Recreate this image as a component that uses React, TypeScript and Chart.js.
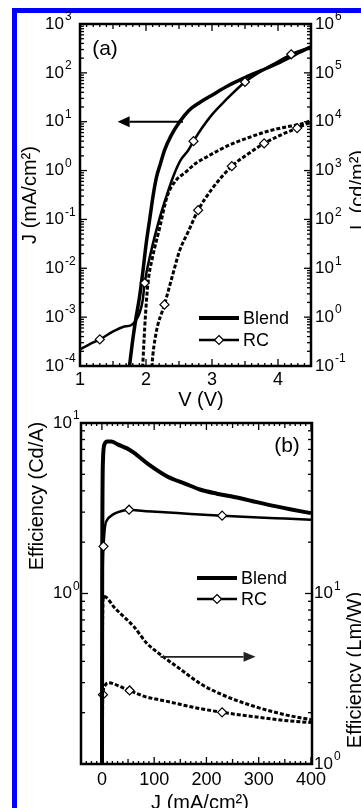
import React, { useEffect, useRef } from 'react';
import { Chart, registerables } from 'chart.js';

Chart.register(...registerables);

const FONT = '"Liberation Sans", Arial, Helvetica, sans-serif';
const W = 361;
const H = 808;

// ---------- Panel (a): J–V and L–V ----------
const BLEND_J_V = [1.70, 1.75, 1.80, 1.85, 1.90, 1.95, 2.00, 2.06, 2.11, 2.16, 2.22, 2.28, 2.38, 2.51, 2.65, 2.82, 3.00, 3.25, 3.50, 3.75, 4.00, 4.25, 4.50];
const BLEND_J = [3e-5, 1e-4, 3.5e-4, 1e-3, 2.5e-3, 8e-3, 0.03, 0.11, 0.32, 0.74, 1.4, 2.6, 5.2, 10, 17, 25, 35, 55, 80, 112, 158, 234, 340];

const RC_J_V = [1.00, 1.15, 1.30, 1.49, 1.65, 1.78, 1.85, 1.90, 1.95, 1.98, 2.08, 2.21, 2.31, 2.41, 2.52, 2.64, 2.72, 2.85, 3.00, 3.20, 3.50, 3.80, 4.00, 4.20, 4.50];
const RC_J = [2.2e-4, 2.8e-4, 3.5e-4, 5.0e-4, 6.3e-4, 6.9e-4, 8.7e-4, 1.2e-3, 2.2e-3, 5e-3, 0.023, 0.11, 0.3, 0.74, 1.6, 2.6, 4.0, 7.5, 14, 27, 65, 120, 170, 240, 340];
const RC_J_MARKS = [2, 9, 16, 20, 23];

const BLEND_L_V = [1.93, 1.95, 1.99, 2.03, 2.10, 2.21, 2.32, 2.45, 2.61, 2.75, 2.92, 3.10, 3.32, 3.55, 3.83, 4.10, 4.34, 4.50];
const BLEND_L = [0.03, 0.1, 1, 5, 17, 70, 295, 620, 950, 1400, 1900, 2600, 3600, 4700, 6300, 7700, 8900, 10500];

const RC_L_V = [2.07, 2.09, 2.15, 2.28, 2.40, 2.51, 2.65, 2.79, 3.00, 3.30, 3.55, 3.79, 4.05, 4.29, 4.50];
const RC_L = [0.03, 0.1, 0.45, 1.8, 7, 23, 60, 155, 420, 1230, 2200, 3600, 5400, 7400, 10000];
const RC_L_MARKS = [3, 7, 9, 11, 13];

const A_X_TICKS = [1, 2, 3, 4];
const A_LEFT_EXP = [-4, -3, -2, -1, 0, 1, 2, 3];
const A_RIGHT_EXP = [-1, 0, 1, 2, 3, 4, 5, 6];

// ---------- Panel (b): efficiencies vs J ----------
const BLEND_CDA_J = [0, 0.5, 2, 5, 10, 18, 30, 48, 61, 90, 125, 160, 189, 220, 253, 285, 317, 360, 400];
const BLEND_CDA = [0.02, 1.0, 6.0, 7.5, 7.8, 7.8, 7.5, 7.1, 6.7, 5.7, 4.86, 4.4, 4.06, 3.85, 3.68, 3.5, 3.32, 3.12, 2.96];

const RC_CDA_J = [0, 1, 3, 6, 10, 16, 25, 38, 52, 80, 120, 170, 230, 300, 350, 400];
const RC_CDA = [0.02, 0.9, 1.89, 2.48, 2.7, 2.83, 2.95, 3.05, 3.1, 3.05, 3.0, 2.93, 2.86, 2.79, 2.75, 2.71];
const RC_CDA_MARKS = [2, 8, 12];

const BLEND_LMW_J = [0, 1, 3, 8, 15, 22, 40, 61, 86, 112, 150, 189, 230, 291, 349, 400];
const BLEND_LMW = [0.05, 5, 9.6, 9.5, 9.0, 8.4, 7.4, 6.4, 5.1, 4.38, 3.6, 2.95, 2.55, 2.18, 1.95, 1.82];

const RC_LMW_J = [0, 1, 2, 5, 9, 13, 25, 40, 53, 80, 125, 175, 230, 300, 350, 400];
const RC_LMW = [0.05, 1.5, 2.55, 2.85, 2.97, 3.0, 2.93, 2.8, 2.70, 2.5, 2.33, 2.15, 2.01, 1.88, 1.8, 1.75];
const RC_LMW_MARKS = [2, 8, 12];

const B_X_TICKS = [0, 100, 200, 300, 400];
const B_LEFT_EXP = [0, 1];
const B_RIGHT_EXP = [0, 1];

// ---------- helpers ----------
const pts = (xs: number[], ys: number[]) => xs.map((x, i) => ({ x, y: ys[i] }));

function series(xs: number[], ys: number[], axis: string, width: number, dash: number[], marks?: number[]) {
  return {
    data: pts(xs, ys),
    yAxisID: axis,
    borderColor: '#000',
    backgroundColor: '#000',
    borderWidth: width,
    borderDash: dash,
    fill: false,
    cubicInterpolationMode: 'monotone',
    pointStyle: 'rectRot',
    pointRadius: (c: any) => (marks && marks.includes(c.dataIndex) ? 4.5 : 0),
    pointBackgroundColor: '#fff',
    pointBorderColor: '#000',
    pointBorderWidth: 1.2,
    clip: 0,
  };
}

function line(ctx: CanvasRenderingContext2D, x1: number, y1: number, x2: number, y2: number) {
  ctx.beginPath();
  ctx.moveTo(x1, y1);
  ctx.lineTo(x2, y2);
  ctx.stroke();
}

function logTicks(ctx: CanvasRenderingContext2D, scale: any, x0: number, dir: number) {
  const min = scale.min, max = scale.max;
  const e0 = Math.floor(Math.log10(min)), e1 = Math.ceil(Math.log10(max));
  for (let e = e0; e <= e1; e++) {
    for (let k = 1; k <= 9; k++) {
      const v = k * Math.pow(10, e);
      if (v < min * 0.999 || v > max * 1.001) continue;
      const py = scale.getPixelForValue(v);
      line(ctx, x0, py, x0 + dir * (k === 1 ? 7 : 4), py);
    }
  }
}

function pow10Label(ctx: CanvasRenderingContext2D, exp: number, x: number, y: number) {
  ctx.textAlign = 'left';
  ctx.textBaseline = 'middle';
  ctx.font = `17px ${FONT}`;
  ctx.fillText('10', x, y);
  const bw = ctx.measureText('10').width;
  ctx.font = `12px ${FONT}`;
  ctx.fillText(String(exp), x + bw + 1, y - 7);
}

function text(ctx: CanvasRenderingContext2D, s: string, x: number, y: number, size: number, align: CanvasTextAlign = 'center', base: CanvasTextBaseline = 'middle') {
  ctx.font = `${size}px ${FONT}`;
  ctx.textAlign = align;
  ctx.textBaseline = base;
  ctx.fillText(s, x, y);
}

function rotText(ctx: CanvasRenderingContext2D, s: string, xBase: number, yCenter: number, size: number) {
  ctx.save();
  ctx.translate(xBase, yCenter);
  ctx.rotate(-Math.PI / 2);
  ctx.font = `${size}px ${FONT}`;
  ctx.textAlign = 'center';
  ctx.textBaseline = 'alphabetic';
  ctx.fillText(s, 0, 0);
  ctx.restore();
}

function arrow(ctx: CanvasRenderingContext2D, x1: number, y: number, x2: number, head: number, half: number, lw: number, color: string) {
  const dir = Math.sign(x2 - x1);
  ctx.strokeStyle = color;
  ctx.fillStyle = color;
  ctx.lineWidth = lw;
  line(ctx, x1, y, x2 - dir * head, y);
  ctx.beginPath();
  ctx.moveTo(x2, y);
  ctx.lineTo(x2 - dir * head, y - half);
  ctx.lineTo(x2 - dir * head, y + half);
  ctx.closePath();
  ctx.fill();
}

function diamond(ctx: CanvasRenderingContext2D, x: number, y: number, r: number) {
  ctx.beginPath();
  ctx.moveTo(x, y - r);
  ctx.lineTo(x + r, y);
  ctx.lineTo(x, y + r);
  ctx.lineTo(x - r, y);
  ctx.closePath();
  ctx.fillStyle = '#fff';
  ctx.fill();
  ctx.lineWidth = 1.2;
  ctx.strokeStyle = '#000';
  ctx.stroke();
}

function legend(ctx: CanvasRenderingContext2D, x1: number, x2: number, y1: number, y2: number) {
  ctx.strokeStyle = '#000';
  ctx.lineWidth = 4;
  line(ctx, x1, y1, x2, y1);
  ctx.lineWidth = 2.5;
  line(ctx, x1, y2, x2, y2);
  diamond(ctx, (x1 + x2) / 2, y2, 4.5);
  ctx.fillStyle = '#000';
  text(ctx, 'Blend', x2 + 4, y1 + 1, 18, 'left');
  text(ctx, 'RC', x2 + 4, y2 + 1, 18, 'left');
}

const panelA = {
  id: 'panelA',
  afterDraw(chart: any) {
    const { ctx, chartArea: a, scales } = chart;
    const x = scales.x, yl = scales.y, yr = scales.y2;
    ctx.save();
    ctx.strokeStyle = '#000';
    ctx.fillStyle = '#000';
    ctx.lineWidth = 1.3;
    for (let i = 10; i <= 45; i++) {
      const px = x.getPixelForValue(i / 10);
      const len = i % 10 === 0 ? 7 : i % 5 === 0 ? 5 : 3;
      line(ctx, px, a.bottom, px, a.bottom - len);
      line(ctx, px, a.top, px, a.top + len);
    }
    logTicks(ctx, yl, a.left, 1);
    logTicks(ctx, yr, a.right, -1);
    ctx.lineWidth = 2.5;
    ctx.strokeRect(a.left, a.top, a.right - a.left, a.bottom - a.top);

    ctx.fillStyle = '#000';
    A_LEFT_EXP.forEach((e) => pow10Label(ctx, e, 45, yl.getPixelForValue(Math.pow(10, e))));
    A_RIGHT_EXP.forEach((e) => pow10Label(ctx, e, 315, yr.getPixelForValue(Math.pow(10, e))));
    A_X_TICKS.forEach((v) => text(ctx, String(v), x.getPixelForValue(v), 380, 18));
    text(ctx, 'V (V)', 201, 400, 20);
    rotText(ctx, 'J (mA/cm²)', 36, 195, 20);
    rotText(ctx, 'L (cd/m²)', 364, 190, 20);
    text(ctx, '(a)', 105, 49, 21);

    arrow(ctx, x.getPixelForValue(2.56), yl.getPixelForValue(10), x.getPixelForValue(1.57), 12, 5.5, 2, '#000');
    legend(ctx, 199, 239, 318, 340);
    ctx.restore();
  },
};

const panelB = {
  id: 'panelB',
  afterDraw(chart: any) {
    const { ctx, chartArea: a, scales } = chart;
    const x = scales.x, yl = scales.y, yr = scales.y2;
    ctx.save();
    ctx.strokeStyle = '#000';
    ctx.fillStyle = '#000';
    ctx.lineWidth = 1.3;
    for (let v = -40; v <= 400; v += 10) {
      const px = x.getPixelForValue(v);
      const len = v % 100 === 0 ? 7 : v % 50 === 0 ? 5 : 3;
      line(ctx, px, a.bottom, px, a.bottom - len);
      line(ctx, px, a.top, px, a.top + len);
    }
    logTicks(ctx, yl, a.left, 1);
    logTicks(ctx, yr, a.right, -1);
    ctx.lineWidth = 2.5;
    ctx.strokeRect(a.left, a.top, a.right - a.left, a.bottom - a.top);

    ctx.fillStyle = '#000';
    B_LEFT_EXP.forEach((e) => pow10Label(ctx, e, 53, yl.getPixelForValue(Math.pow(10, e))));
    B_RIGHT_EXP.forEach((e) => pow10Label(ctx, e, 314, yr.getPixelForValue(Math.pow(10, e))));
    B_X_TICKS.forEach((v) => text(ctx, String(v), x.getPixelForValue(v), 780, 18));
    text(ctx, 'J (mA/cm²)', 200, 809, 20, 'center', 'alphabetic');
    rotText(ctx, 'Efficiency (Cd/A)', 43, 496, 20);
    rotText(ctx, 'Efficiency (Lm/W)', 361, 670, 20);
    text(ctx, '(b)', 287, 446, 21);

    arrow(ctx, x.getPixelForValue(112), yr.getPixelForValue(4.25), x.getPixelForValue(294), 12, 5, 1.6, '#222');
    legend(ctx, 197, 237, 578, 599);
    ctx.restore();
  },
};

export default function App() {
  const refA = useRef<HTMLCanvasElement | null>(null);
  const refB = useRef<HTMLCanvasElement | null>(null);

  useEffect(() => {
    const dash = [4, 2];
    const common = {
      responsive: false,
      animation: false,
      events: [],
      plugins: { legend: { display: false }, tooltip: { enabled: false }, title: { display: false } },
    };
    const chartA = new Chart(refA.current as HTMLCanvasElement, {
      type: 'line',
      data: {
        datasets: [
          series(RC_J_V, RC_J, 'y', 2.5, [], RC_J_MARKS),
          series(BLEND_J_V, BLEND_J, 'y', 3.5, []),
          series(RC_L_V, RC_L, 'y2', 3, dash, RC_L_MARKS),
          series(BLEND_L_V, BLEND_L, 'y2', 3, dash),
        ] as any,
      },
      options: {
        ...common,
        layout: { padding: { left: 80, top: 24, right: W - 311, bottom: H - 366 } },
        scales: {
          x: { type: 'linear', min: 1, max: 4.5, display: false },
          y: { type: 'logarithmic', min: 1e-4, max: 1e3, display: false },
          y2: { type: 'logarithmic', min: 0.1, max: 1e6, display: false },
        },
      } as any,
      plugins: [panelA],
    });
    const chartB = new Chart(refB.current as HTMLCanvasElement, {
      type: 'line',
      data: {
        datasets: [
          series(RC_CDA_J, RC_CDA, 'y', 2.5, [], RC_CDA_MARKS),
          series(BLEND_CDA_J, BLEND_CDA, 'y', 4, []),
          series(RC_LMW_J, RC_LMW, 'y2', 3, dash, RC_LMW_MARKS),
          series(BLEND_LMW_J, BLEND_LMW, 'y2', 3, dash),
        ] as any,
      },
      options: {
        ...common,
        layout: { padding: { left: 81, top: 423, right: W - 312, bottom: H - 764 } },
        scales: {
          x: { type: 'linear', min: -40, max: 402, display: false },
          y: { type: 'logarithmic', min: 0.1, max: 10, display: false },
          y2: { type: 'logarithmic', min: 1, max: 100, display: false },
        },
      } as any,
      plugins: [panelB],
    });
    return () => {
      chartA.destroy();
      chartB.destroy();
    };
  }, []);

  const canvasStyle: React.CSSProperties = { position: 'absolute', left: 0, top: 0, width: W, height: H };
  return (
    <div style={{ position: 'absolute', left: 0, top: 0, width: W, height: H, overflow: 'hidden', background: '#fff' }}>
      <div
        style={{
          position: 'absolute',
          left: 12,
          top: 8,
          width: 420,
          height: 900,
          borderLeft: '5px solid #0000ff',
          borderTop: '5px solid #0000ff',
          boxSizing: 'border-box',
        }}
      />
      <canvas ref={refA} width={W} height={H} style={canvasStyle} />
      <canvas ref={refB} width={W} height={H} style={canvasStyle} />
    </div>
  );
}
